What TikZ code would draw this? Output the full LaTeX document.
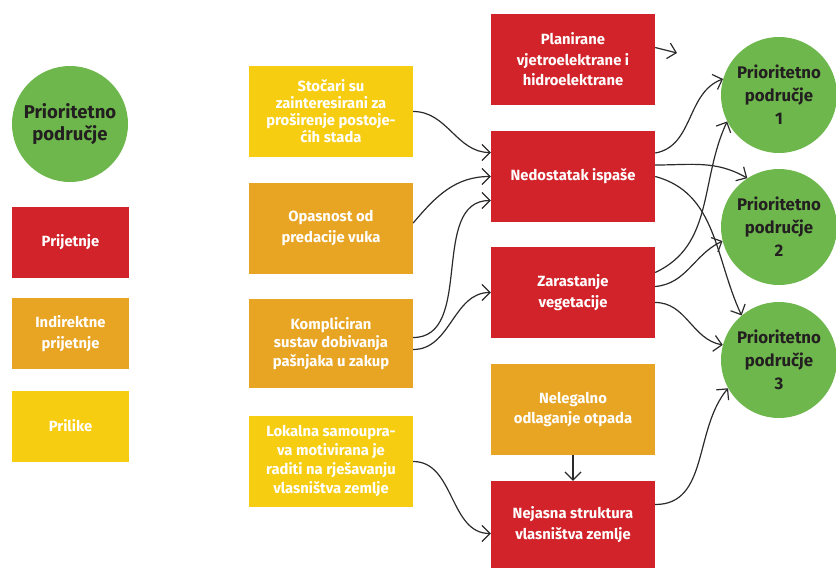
\documentclass[tikz,border=0pt]{standalone}
\usepackage{fontspec}
\setmainfont{Fira Sans}
\usetikzlibrary{arrows.meta}
\definecolor{cred}{HTML}{D2232A}
\definecolor{corange}{HTML}{E8A524}
\definecolor{cyellow}{HTML}{F6CD11}
\definecolor{cgreen}{HTML}{6DB74C}
\definecolor{ctext}{HTML}{231F20}
\definecolor{cline}{HTML}{2B2B2B}
\begin{document}
\begin{tikzpicture}[x=1pt,y=1pt,
  box/.style={rectangle, minimum width=164pt, minimum height=91pt, inner sep=0pt,
    text=white, align=center, font=\fontsize{14.8}{20.5}\selectfont\bfseries},
  lbox/.style={box, minimum width=117pt, minimum height=71pt},
  red/.style={fill=cred}, orange/.style={fill=corange}, yellow/.style={fill=cyellow},
  area/.style={circle, fill=cgreen, minimum size=116pt, inner sep=0pt, text=ctext,
    align=center, font=\fontsize{16.8}{23}\selectfont\bfseries},
  conn/.style={draw=cline, line width=1.2pt, -{Straight Barb[length=8pt,width=16pt]}}
]
\useasboundingbox (0,0) rectangle (836,-568);

% legend
\node[area, font=\fontsize{18.5}{22.5}\selectfont\bfseries] (leg) at (70,-124) {Prioritetno\\područje};
\node[lbox, red] (lp) at (70.5,-242.5) {Prijetnje};
\node[lbox, orange] (li) at (70.5,-333.5) {Indirektne\\prijetnje};
\node[lbox, yellow] (ll) at (70.5,-426) {Prilike};

% column 2
\node[box, yellow, font=\fontsize{14.8}{17}\selectfont\bfseries] (sto) at (331,-111.5) {Stočari su\\zainteresirani za\\proširenje postoje-\\ćih stada};
\node[box, orange] (opa) at (331,-228) {Opasnost od\\predacije vuka};
\node[box, orange, minimum height=89pt, font=\fontsize{14.8}{18.7}\selectfont\bfseries] (kom) at (331,-343.5) {Kompliciran\\sustav dobivanja\\pašnjaka u zakup};
\node[box, yellow, font=\fontsize{14.8}{19}\selectfont\bfseries] (lok) at (331,-461.5) {Lokalna samoupra-\\va motivirana je\\raditi na rješavanju\\vlasništva zemlje};

% column 3
\node[box, red] (pla) at (573,-59.5) {Planirane\\vjetroelektrane i\\hidroelektrane};
\node[box, red] (ned) at (573,-176.5) {Nedostatak ispaše};
\node[box, red] (zar) at (573,-292.5) {Zarastanje\\vegetacije};
\node[box, orange] (nel) at (573,-409.5) {Nelegalno\\odlaganje otpada};
\node[box, red, minimum height=87pt] (nej) at (573,-524.5) {Nejasna struktura\\vlasništva zemlje};

% priority areas
\node[area] (c1) at (779,-95) {Prioritetno\\područje\\1};
\node[area] (c2) at (779,-227) {Prioritetno\\područje\\2};
\node[area] (c3) at (779,-360) {Prioritetno\\područje\\3};

\coordinate (free) at (677,-53);

% connectors
\draw[conn] ([yshift=12pt]pla.east) -- (free);
\draw[conn] ([yshift=0pt]sto.east) to[out=0,in=180] ([yshift=24pt]ned.west);
\draw[conn] ([yshift=5pt]opa.east) to[out=50,in=180] ([yshift=0pt]ned.west);
\draw[conn] ([yshift=6pt]kom.east) to[out=0,in=180] ([yshift=-24pt]ned.west);
\draw[conn] ([yshift=-6pt]kom.east) to[out=0,in=180] (zar.west);
\draw[conn] (lok.east) to[out=0,in=180] ([yshift=-9pt]nej.west);
\draw[conn] (nel.south) -- (nej.north);

\draw[conn] ([yshift=23.5pt]ned.east) to[out=10,in=200] (c1.164);
\draw[conn] ([yshift=11.5pt]ned.east) to[out=0,in=150] (c2.123);
\draw[conn] ([yshift=0pt]ned.east) to[out=-15,in=115] (c3.130);
\draw[conn] ([yshift=20pt]zar.east) to[out=25,in=245] (c1.207);
\draw[conn] ([yshift=6pt]zar.east) to[out=5,in=205] (c2.194);
\draw[conn] ([yshift=-10pt]zar.east) to[out=0,in=170] (c3.165);
\draw[conn] ([yshift=20pt]nej.east) to[out=0,in=230] (c3.209);
\end{tikzpicture}
\end{document}
